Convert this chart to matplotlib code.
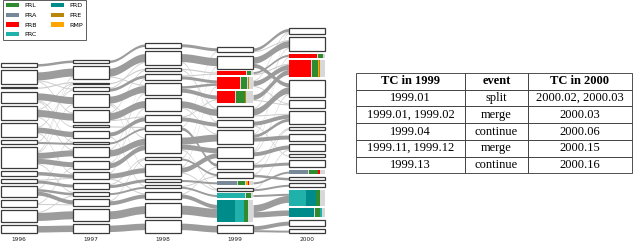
import numpy as np
import matplotlib
matplotlib.use("Agg")
import matplotlib.pyplot as plt
from matplotlib.patches import Rectangle, Patch

# cluster sizes per year, listed top to bottom
years = ["1996", "1997", "1998", "1999", "2000"]
sizes_1996 = [4.7, 14.7, 2.3, 12.3, 14.3, 14.7, 5, 21, 6, 5, 11, 8.3, 12, 9]
sizes_1997 = [3.7, 14.3, 2, 5.3, 13, 13.3, 2.7, 8.7, 3.3, 11, 9, 8.3, 6.7, 4.7, 8, 12.3, 10]
sizes_1998 = [6, 15, 3, 7.3, 12, 14.5, 8.5, 6, 20.5, 4.6, 13, 4, 4, 8.6, 15, 13.8]
sizes_1999 = [6, 14, 3.3, 12, 12, 11.7, 7.5, 14.8, 11.8, 8.4, 6.6, 4.2, 3.8, 4.2, 21.8, 9.2]
sizes_2000 = [6.6, 14.7, 4.4, 17, 17.7, 8.3, 13.7, 4.4, 7.7, 8.4, 3.3, 8, 4.3, 4, 4.6, 15.7, 9.3, 7, 4.3]
sizes = [sizes_1996, sizes_1997, sizes_1998, sizes_1999, sizes_2000]

# flows between consecutive years: (source cluster, target cluster, width)
flows_96_97 = [(0, 0, 2.5), (1, 1, 8), (1, 3, 1), (1, 5, 1), (2, 2, 1.2), (3, 4, 7), (3, 6, 1),
               (4, 5, 7), (4, 9, 1), (4, 2, 1), (5, 7, 5.5), (5, 3, 1), (5, 11, 1), (6, 8, 2),
               (7, 9, 6), (7, 10, 5), (7, 4, 1), (7, 13, 1), (7, 1, 1), (8, 11, 3.5), (9, 12, 3),
               (10, 13, 2.5), (10, 14, 4), (10, 7, 1), (11, 14, 1), (11, 10, 1), (12, 15, 8),
               (13, 16, 6.5), (6, 2, 1), (9, 11, 1), (12, 13, 1), (3, 8, 1)]
flows_97_98 = [(0, 0, 2.5), (1, 1, 8), (1, 4, 1), (2, 2, 1.2), (3, 3, 3), (4, 4, 7), (4, 8, 1),
               (4, 10, 1), (5, 5, 7), (5, 6, 1), (5, 2, 1), (6, 7, 1.2), (7, 6, 4), (8, 7, 2),
               (9, 8, 6.5), (9, 4, 1), (10, 8, 5), (10, 5, 1), (11, 10, 5), (11, 3, 1), (12, 11, 3),
               (13, 12, 2), (14, 13, 4), (14, 9, 1), (15, 14, 8), (16, 15, 6.5), (12, 9, 1),
               (3, 1, 1), (11, 13, 1), (7, 12, 1)]
flows_98_99 = [(0, 0, 3), (1, 1, 8), (1, 6, 1), (2, 2, 1.2), (3, 3, 3), (4, 4, 4), (4, 3, 2.5),
               (5, 5, 6.5), (5, 7, 1), (6, 6, 4), (7, 9, 3), (8, 7, 7), (8, 8, 5), (8, 12, 1),
               (9, 10, 2), (10, 8, 5), (10, 12, 1), (10, 3, 1), (11, 11, 2), (12, 13, 2), (13, 14, 4),
               (14, 14, 9), (15, 15, 6.5), (3, 2, 1), (6, 4, 1), (2, 5, 1), (9, 1, 1), (12, 10, 1),
               (7, 0, 1), (13, 9, 1)]
flows_99_00 = [(0, 0, 3), (0, 1, 1), (1, 1, 6.5), (1, 4, 4), (2, 2, 2), (2, 3, 1.2), (3, 3, 5),
               (3, 0, 1), (4, 3, 5), (4, 5, 1), (5, 4, 6.5), (5, 6, 1), (5, 1, 1), (6, 6, 4),
               (7, 6, 3), (7, 8, 4), (7, 2, 1), (8, 9, 4), (8, 4, 1), (9, 11, 3), (9, 7, 1),
               (10, 13, 2.5), (11, 12, 2), (12, 14, 2), (13, 15, 2), (14, 15, 7), (14, 16, 5.5),
               (15, 17, 4), (15, 18, 2), (3, 5, 1), (6, 10, 1), (10, 7, 1), (8, 0, 1), (12, 9, 1)]
flows = [flows_96_97, flows_97_98, flows_98_99, flows_99_00]

# topic composition of highlighted clusters: (year index, cluster) -> shares
categories = ["PRL", "PRA", "PRB", "PRC", "PRD", "PRE", "RMP"]
cat_colors = ["#2e8b2e", "#778899", "#ff0000", "#20b2aa", "#008b8b", "#b8860b", "#ffa500"]
composition = {
    (3, 2): [("PRB", 0.84), ("PRL", 0.12)],
    (3, 3): [("PRB", 0.67), ("PRL", 0.18), ("PRE", 0.03), ("RMP", 0.02)],
    (3, 4): [("PRB", 0.53), ("PRL", 0.26), ("PRE", 0.03), ("RMP", 0.02)],
    (3, 11): [("PRA", 0.58), ("PRL", 0.22), ("RMP", 0.05), ("PRB", 0.04)],
    (3, 13): [("PRC", 0.81), ("PRL", 0.14)],
    (3, 14): [("PRD", 0.51), ("PRC", 0.25), ("PRL", 0.11)],
    (4, 2): [("PRB", 0.81), ("PRL", 0.15)],
    (4, 3): [("PRB", 0.63), ("PRL", 0.18), ("RMP", 0.03), ("PRE", 0.02)],
    (4, 12): [("PRA", 0.56), ("PRL", 0.25), ("PRB", 0.06)],
    (4, 15): [("PRC", 0.48), ("PRD", 0.28), ("PRL", 0.1)],
    (4, 16): [("PRD", 0.71), ("PRL", 0.15), ("PRC", 0.05)],
}

# table contents
table_header = ["TC in 1999", "event", "TC in 2000"]
table_rows = [
    ["1999.01", "split", "2000.02, 2000.03"],
    ["1999.01, 1999.02", "merge", "2000.03"],
    ["1999.04", "continue", "2000.06"],
    ["1999.11, 1999.12", "merge", "2000.15"],
    ["1999.13", "continue", "2000.16"],
]

GAP = 2.35
HALF_W = 0.25
color_of = dict(zip(categories, cat_colors))

# stack clusters from the bottom up
bottoms = []
for col in sizes:
    b = []
    y = 0.0
    for s in reversed(col):
        b.append(y)
        y += s + GAP
    bottoms.append(list(reversed(b)))

fig = plt.figure(figsize=(6.4, 2.42), dpi=100)
ax = fig.add_axes([0, 0, 330 / 640, 1])
ax.set_xlim(-0.264, -0.264 + 330 / 72)
ax.set_ylim(-8.7, 233.3)
ax.axis("off")

# flows
for t, fl in enumerate(flows):
    src_c = [bottoms[t][i] + sizes[t][i] / 2 for i in range(len(sizes[t]))]
    dst_c = [bottoms[t + 1][i] + sizes[t + 1][i] / 2 for i in range(len(sizes[t + 1]))]
    out_pos, in_pos = {}, {}
    for i in range(len(sizes[t])):
        outs = sorted([f for f in fl if f[0] == i], key=lambda f: -dst_c[f[1]])
        tot = sum(f[2] for f in outs)
        y = src_c[i] + tot / 2
        for f in outs:
            out_pos[f] = y
            y -= f[2]
    for j in range(len(sizes[t + 1])):
        ins = sorted([f for f in fl if f[1] == j], key=lambda f: -src_c[f[0]])
        tot = sum(f[2] for f in ins)
        y = dst_c[j] + tot / 2
        for f in ins:
            in_pos[f] = y
            y -= f[2]
    x0, x1 = t + HALF_W, t + 1 - HALF_W
    xs = np.linspace(x0, x1, 60)
    s = (1 - np.cos(np.pi * (xs - x0) / (x1 - x0))) / 2
    for f in sorted(fl, key=lambda f: f[2]):
        top = out_pos[f] + (in_pos[f] - out_pos[f]) * s
        col = "#9c9c9c" if f[2] >= 2 else "#cdcdcd"
        ax.fill_between(xs, top - f[2], top, color=col, lw=0, zorder=1)

# cluster boxes
for t, col in enumerate(sizes):
    for i, s in enumerate(col):
        b = bottoms[t][i]
        if (t, i) in composition:
            ax.add_patch(Rectangle((t - HALF_W, b), 2 * HALF_W, s, facecolor="#d8d8d8",
                                   edgecolor="none", zorder=2))
            x = t - HALF_W
            for cat, frac in composition[(t, i)]:
                w = frac * 2 * HALF_W
                ax.add_patch(Rectangle((x, b), w * 0.96, s, facecolor=color_of[cat],
                                       edgecolor="none", zorder=3))
                x += w
        else:
            ax.add_patch(Rectangle((t - HALF_W, b + 0.4), 2 * HALF_W, s - 0.8, facecolor="white",
                                   edgecolor="#3a3a3a", lw=0.9, zorder=2))
    ax.text(t, -6, years[t], ha="center", va="center", fontsize=4.2, color="#222222")

handles = [Patch(facecolor=c, edgecolor="none", label=n) for n, c in zip(categories, cat_colors)]
leg = ax.legend(handles=handles, ncol=2, loc="upper left", bbox_to_anchor=(3 / 330, 1.0),
                fontsize=4.6, frameon=True, fancybox=False, borderaxespad=0,
                handlelength=2.0, handleheight=0.7, labelspacing=0.65, columnspacing=2.2,
                borderpad=0.45, handletextpad=0.9)
leg.get_frame().set_edgecolor("#333333")
leg.get_frame().set_linewidth(0.7)

# table
tax = fig.add_axes([356 / 640, (242 - 173.3) / 242, 275.7 / 640, 100.3 / 242])
tax.axis("off")
tbl = tax.table(cellText=table_rows, colLabels=table_header, colWidths=[0.395, 0.228, 0.377],
                cellLoc="center", bbox=[0, 0, 1, 1])
tbl.auto_set_font_size(False)
for (r, c), cell in tbl.get_celld().items():
    cell.set_edgecolor("#333333")
    cell.set_linewidth(0.6)
    txt = cell.get_text()
    txt.set_fontsize(9)
    txt.set_fontfamily("Liberation Serif")
    if r == 0:
        txt.set_fontweight("bold")

fig.savefig("out.png", dpi=100)
